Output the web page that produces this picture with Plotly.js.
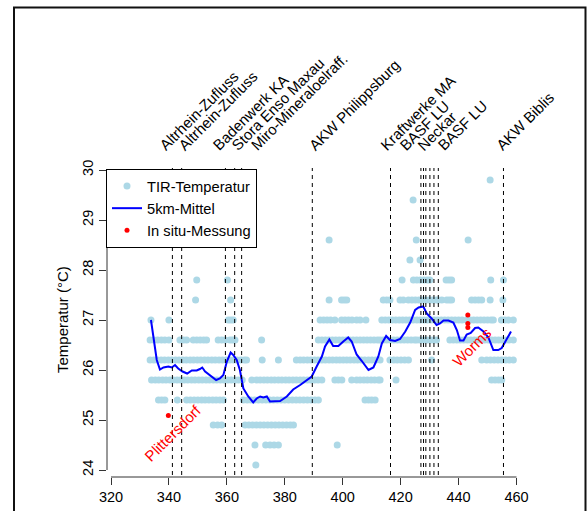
<!DOCTYPE html>
<html><head><meta charset="utf-8">
<script src="https://cdn.plot.ly/plotly-3.0.1.min.js"></script>
<style>body{margin:0;background:#fff}#c{width:588px;height:511px}</style>
</head><body><div id="c"></div>
<script>
// ---- data ----
const xTicks = [320, 340, 360, 380, 400, 420, 440, 460];
const yTicks = [24, 25, 26, 27, 28, 29, 30];

// TIR temperature levels and river-km positions of the points at each level
const tirLevels = [29.8, 29.4, 28.6, 28.2, 27.8, 27.4, 27.0, 26.6, 26.2, 25.8, 25.4, 24.9, 24.5, 24.1];
const tir298 = [450.9];
const tir294 = [424.3];
const tir286 = [395.3, 425.4, 443.3];
const tir282 = [423.2, 426.7];
const tir278 = [349.6, 360.2, 420.5, 424.4, 425.6, 426.8, 428.0, 429.2, 430.1, 435.7, 436.7, 437.6, 451.1, 455.5];
const tir274 = [349.2, 361.3, 395.3, 399.6, 400.5, 401.4, 414.0, 415.2, 416.3, 419.8, 420.9, 422.7, 423.9, 425.1, 426.3, 427.5, 428.7, 429.9, 431.1, 432.3, 433.0, 434.2, 435.9, 436.8, 437.6, 444.5, 445.7, 446.9, 448.0, 450.9, 455.3];
const tir270 = [333.8, 340.0, 360.5, 361.4, 362.2, 392.2, 393.4, 394.6, 395.8, 397.3, 399.6, 400.8, 402.0, 403.2, 404.8, 406.0, 408.0, 413.5, 414.7, 415.9, 417.1, 418.3, 419.5, 420.7, 421.9, 423.1, 424.3, 425.6, 426.8, 428.0, 429.2, 430.4, 431.6, 432.8, 434.0, 435.2, 436.4, 437.6, 438.8, 440.0, 441.2, 442.8, 444.0, 445.2, 446.4, 447.6, 448.8, 450.0, 451.2, 452.0, 454.8, 456.0, 457.2, 458.9];
const tir266 = [333.5, 334.8, 336.1, 337.4, 338.6, 340.0, 343.8, 345.0, 346.1, 348.4, 349.6, 350.8, 352.0, 353.0, 357.0, 358.2, 359.4, 361.1, 362.0, 362.8, 372.0, 391.6, 392.8, 394.0, 395.2, 396.4, 397.6, 398.8, 400.0, 401.2, 402.4, 403.6, 404.8, 406.0, 407.2, 408.4, 409.6, 410.8, 412.0, 412.9, 414.0, 415.2, 416.4, 417.6, 418.8, 420.0, 421.2, 422.4, 423.6, 424.8, 425.6, 426.7, 427.9, 429.1, 430.3, 431.4, 432.4, 437.0, 438.2, 439.4, 440.6, 441.8, 443.0, 444.2, 445.4, 446.6, 447.8, 449.0, 450.2, 451.4, 452.6, 453.8, 455.0, 456.2, 457.4, 458.9];
const tir262 = [333.5, 334.8, 336.0, 337.3, 338.5, 339.8, 341.0, 342.3, 343.5, 344.8, 346.0, 347.3, 348.5, 349.8, 351.0, 352.3, 353.5, 354.8, 356.0, 357.3, 358.5, 359.8, 361.0, 362.3, 363.5, 364.8, 366.0, 366.8, 372.2, 377.8, 384.0, 385.3, 386.5, 387.8, 389.0, 390.3, 391.5, 392.8, 394.0, 395.3, 396.5, 397.8, 399.0, 400.2, 401.4, 402.6, 403.9, 405.1, 406.4, 407.6, 408.9, 410.1, 411.4, 412.9, 416.3, 417.6, 418.8, 420.1, 421.4, 422.7, 430.7, 448.0, 449.7, 451.0, 452.3, 453.6, 454.9, 456.2, 457.5, 458.9];
const tir258 = [334.0, 335.3, 336.5, 337.8, 339.0, 340.3, 341.5, 342.8, 344.0, 345.3, 346.5, 347.8, 349.0, 350.3, 351.5, 352.8, 354.0, 355.3, 356.5, 357.8, 359.0, 360.3, 361.5, 362.8, 364.0, 365.3, 368.6, 370.3, 371.5, 372.8, 374.0, 375.3, 376.5, 377.8, 379.0, 380.3, 381.5, 382.8, 384.0, 385.3, 386.5, 387.8, 389.0, 390.3, 391.5, 392.8, 397.3, 398.5, 399.7, 403.1, 404.8, 406.0, 407.3, 408.5, 409.8, 411.0, 412.3, 412.9, 418.4, 451.4, 452.6, 453.8, 454.9];
const tir254 = [336.4, 337.5, 338.6, 342.9, 346.1, 347.4, 348.7, 350.0, 351.3, 352.5, 353.8, 355.1, 356.3, 357.6, 358.8, 365.7, 367.0, 368.3, 369.6, 370.9, 372.2, 373.5, 374.8, 376.1, 377.4, 378.7, 380.0, 381.3, 382.6, 383.9, 385.2, 386.5, 387.8, 389.1, 390.4, 391.6, 407.7, 408.9, 410.0, 411.2];
const tir249 = [355.3, 356.8, 358.2, 366.3, 367.6, 368.9, 370.2, 371.5, 372.8, 374.1, 375.4, 376.7, 378.0, 379.3, 380.6, 381.9, 383.0];
const tir245 = [369.7, 373.4, 374.9, 376.3, 377.8, 398.1];
const tir241 = [370.0];
const tirGroups = [tir298, tir294, tir286, tir282, tir278, tir274, tir270, tir266, tir262, tir258, tir254, tir249, tir245, tir241];

// 5 km running mean
const meanKm = [333.8, 335.8, 336.9, 338.1, 339.8, 341.0, 342.1, 343.2, 344.7, 346.3, 347.9, 349.6, 350.7, 351.5, 352.5, 353.6, 354.8, 356.3, 357.6, 358.8, 360.0, 361.3, 362.2, 363.4, 364.5, 365.7, 367.4, 369.1, 370.3, 371.5, 372.6, 373.8, 374.9, 376.6, 378.4, 380.7, 382.9, 385.3, 387.0, 389.3, 391.0, 392.8, 393.9, 395.4, 396.7, 398.5, 400.2, 401.9, 403.1, 404.8, 406.6, 408.9, 410.6, 412.3, 413.5, 415.0, 416.3, 418.1, 419.8, 421.6, 423.3, 425.0, 426.2, 427.8, 429.0, 430.7, 432.4, 433.6, 434.8, 436.5, 438.2, 439.4, 440.5, 441.7, 442.8, 444.2, 445.7, 446.8, 448.6, 450.3, 452.0, 453.7, 454.9, 456.6, 458.1];
const meanT  = [27.0, 26.2, 26.01, 26.05, 26.07, 26.05, 26.1, 26.03, 25.97, 25.93, 25.99, 25.99, 26.02, 26.05, 25.97, 25.92, 25.88, 25.8, 25.83, 25.9, 26.17, 26.35, 26.3, 26.2, 26.0, 25.63, 25.47, 25.35, 25.43, 25.47, 25.45, 25.47, 25.37, 25.37, 25.38, 25.47, 25.61, 25.7, 25.77, 25.87, 26.07, 26.27, 26.47, 26.61, 26.48, 26.48, 26.57, 26.65, 26.57, 26.31, 26.18, 26.0, 26.05, 26.27, 26.53, 26.68, 26.6, 26.58, 26.62, 26.77, 26.95, 27.2, 27.25, 27.27, 27.13, 27.03, 26.9, 26.93, 26.99, 26.99, 26.95, 26.8, 26.59, 26.59, 26.71, 26.74, 26.84, 26.85, 26.77, 26.65, 26.4, 26.4, 26.44, 26.63, 26.77];

// in situ measurements
const insituKm = [339.8, 443.2, 443.2, 443.2];
const insituT  = [25.09, 27.1, 26.93, 26.85];
const insituNames = ['Plittersdorf', 'Worms'];
const insituLabelKm = [341.4, 444.3];
const insituLabelT  = [24.76, 26.46];

// discharge / site positions (river km) and labels
const siteKm = [341.2, 344.4, 359.5, 362.7, 365.1, 389.5, 416.5, 427.0, 427.9, 428.7, 430.1, 431.5, 433.0, 455.5];
const siteLabels = ['Altrhein-Zufluss', 'Altrhein-Zufluss', 'Badenwerk KA', 'Stora Enso Maxau', 'Miro-Mineraloelraff.', 'AKW Philippsburg', 'Kraftwerke MA', 'BASF LU', 'Neckar', 'BASF LU', 'AKW Biblis'];
const siteLabelKm = [337.6, 344.2, 355.9, 362.2, 369.2, 389.3, 414.0, 420.4, 426.7, 433.4, 453.6];

// ---- build ----
const W = 588, H = 511;
const M = {l: 107, r: 58, t: 150, b: 34};
const pw = W - M.l - M.r, ph = H - M.t - M.b;
const xr = [318.62, 464.66];
const yr = [23.86, 23.86 + ph / 50];
const px2paperX = p => (p - M.l) / pw;
const py2paperY = p => (H - M.b - p) / ph;
const FONT = 'Liberation Sans, Arial, sans-serif';
const FS = 15;

const tirX = [], tirY = [];
tirGroups.forEach((g, i) => g.forEach(v => { tirX.push(v); tirY.push(tirLevels[i]); }));

const traces = [
  {x: tirX, y: tirY, type: 'scatter', mode: 'markers', name: 'TIR-Temperatur',
   marker: {color: '#ADD8E6', size: 7}, cliponaxis: false},
  {x: meanKm, y: meanT, type: 'scatter', mode: 'lines', name: '5km-Mittel',
   line: {color: '#0000FF', width: 2}},
  {x: insituKm, y: insituT, type: 'scatter', mode: 'markers', name: 'In situ-Messung',
   marker: {color: '#FF0000', size: 5}}
];

const shapes = [];
siteKm.forEach(k => shapes.push({type: 'line', xref: 'x', yref: 'y', x0: k, x1: k, y0: 23.9, y1: 30.04,
  line: {color: '#000', width: 1, dash: '4px,4px'}, layer: 'above'}));
// axis lines (R style, only over the tick range)
shapes.push({type: 'line', xref: 'paper', yref: 'y', x0: 0, x1: 0, y0: yTicks[0], y1: yTicks[yTicks.length - 1], line: {color: '#333', width: 1}});
shapes.push({type: 'line', xref: 'x', yref: 'paper', x0: xTicks[0], x1: xTicks[xTicks.length - 1], y0: 0, y1: 0, line: {color: '#333', width: 1}});
// outer frame
shapes.push({type: 'rect', xref: 'paper', yref: 'paper', x0: px2paperX(14), x1: px2paperX(585.5), y0: py2paperY(530), y1: py2paperY(7.5),
  line: {color: '#111', width: 2}, fillcolor: 'rgba(0,0,0,0)'});

const annotations = [];
siteLabels.forEach((t, i) => annotations.push({x: siteLabelKm[i], y: py2paperY(155), xref: 'x', yref: 'paper',
  text: t, textangle: -45, showarrow: false, xanchor: 'left', yanchor: 'bottom', xshift: -7, borderpad: 0,
  font: {family: FONT, size: FS, color: '#000'}}));
insituNames.forEach((t, i) => annotations.push({x: insituLabelKm[i], y: insituLabelT[i], xref: 'x', yref: 'y',
  text: t, textangle: -45, showarrow: false, xanchor: 'center', yanchor: 'middle',
  font: {family: FONT, size: FS, color: '#FF0000'}}));
annotations.push({x: px2paperX(62), y: 27, xref: 'paper', yref: 'y', text: 'Temperatur (°C)', textangle: -90,
  showarrow: false, xanchor: 'center', yanchor: 'middle', font: {family: FONT, size: FS, color: '#000'}});

const layout = {
  width: W, height: H, margin: M, paper_bgcolor: '#fff', plot_bgcolor: '#fff',
  font: {family: FONT, size: FS, color: '#000'},
  xaxis: {range: xr, tickvals: xTicks, ticktext: xTicks.map(String), ticks: 'outside', ticklen: 7, tickcolor: '#333',
    showgrid: false, zeroline: false, showline: false, tickfont: {size: 14.5}},
  yaxis: {range: yr, tickvals: yTicks, ticktext: yTicks.map(String), ticks: 'outside', ticklen: 7, tickcolor: '#333',
    showgrid: false, zeroline: false, showline: false, tickangle: -90, tickfont: {size: 14.5}},
  showlegend: true,
  legend: {x: px2paperX(106), y: py2paperY(169), xanchor: 'left', yanchor: 'top', bgcolor: '#fff',
    bordercolor: '#000', borderwidth: 1, font: {size: 14.7}, tracegroupgap: 0},
  shapes: shapes, annotations: annotations
};
Plotly.newPlot('c', traces, layout, {displayModeBar: false, staticPlot: true});
</script></body></html>
